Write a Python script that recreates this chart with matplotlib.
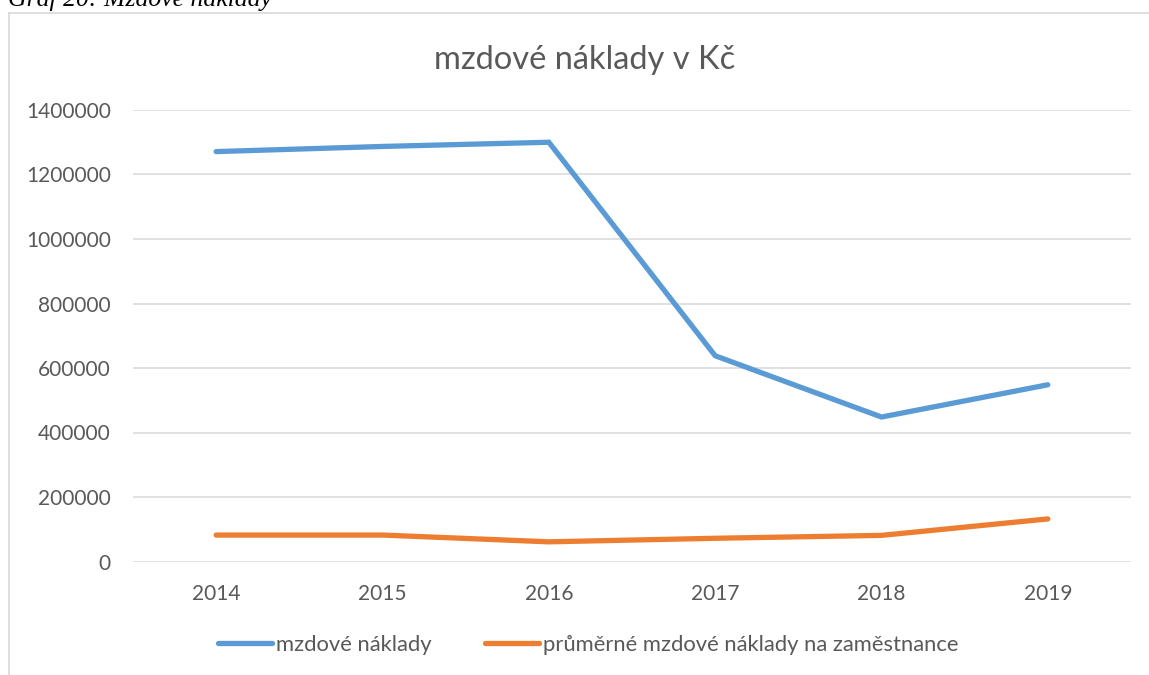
import numpy as np
import matplotlib
matplotlib.use('Agg')
import matplotlib.pyplot as plt
from matplotlib.lines import Line2D

years = ['2014', '2015', '2016', '2017', '2018', '2019']
mzdove_naklady = [1271000, 1287000, 1300000, 638000, 448000, 548000]
prumerne_naklady = [82000, 82000, 61000, 72000, 81000, 132000]

plt.rcParams['font.family'] = ['Lato', 'DejaVu Sans']

W, H = 1149, 675
fig = plt.figure(figsize=(W / 100, H / 100), dpi=100)

# chart frame (Excel style), clipped at right and bottom
fig.add_artist(Line2D([8.5 / W, 8.5 / W], [0, 1 - 12.5 / H], color='#d9d9d9', lw=1.2))
fig.add_artist(Line2D([8.5 / W, 1], [1 - 12.5 / H, 1 - 12.5 / H], color='#d9d9d9', lw=1.2))

# caption above the chart, mostly cut off
fig.text(8 / W, 1 - 6 / H, 'Graf 20: Mzdové náklady', family='Liberation Serif',
         style='italic', fontsize=18.5, color='black', va='baseline', ha='left')

ax = fig.add_axes([133 / W, 1 - 561.5 / H, (1131 - 133) / W, (561.5 - 110) / H])
x = np.arange(len(years))
ax.plot(x, mzdove_naklady, color='#5b9bd5', lw=3.8, solid_capstyle='round',
        solid_joinstyle='miter', label='mzdové náklady')
ax.plot(x, prumerne_naklady, color='#ed7d31', lw=3.8, solid_capstyle='round',
        solid_joinstyle='miter', label='průměrné mzdové náklady na zaměstnance')

ax.set_xlim(-0.5, len(years) - 0.5)
ax.set_ylim(0, 1400000)
ax.set_yticks(np.arange(0, 1400001, 200000))
ax.set_yticklabels([str(v) for v in range(0, 1400001, 200000)])
ax.set_xticks(x)
ax.set_xticklabels(years)
ax.grid(axis='y', color='#d9d9d9', lw=1.1)
ax.set_axisbelow(True)
for s in ax.spines.values():
    s.set_visible(False)
ax.tick_params(axis='y', length=0, pad=16, labelsize=15, labelcolor='#595959')
ax.tick_params(axis='x', length=0, pad=16, labelsize=15, labelcolor='#595959')

fig.text(585 / W, 1 - 60 / H, 'mzdové náklady v Kč', ha='center', va='center',
         fontsize=23.5, color='#595959')

ax.legend(loc='center', bbox_to_anchor=(588 / W, 1 - 645 / H), bbox_transform=fig.transFigure,
          ncol=2, frameon=False, fontsize=15.8, labelcolor='#595959', handlelength=2.45,
          handletextpad=0.18, columnspacing=2.45)

fig.savefig('out.png', dpi=100)
